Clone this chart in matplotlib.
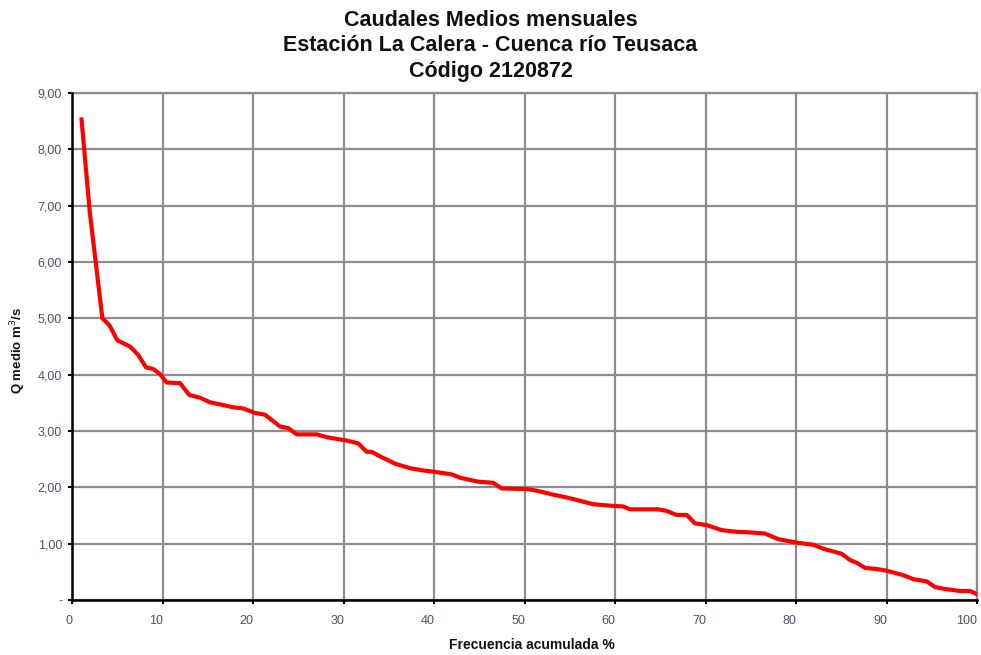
import matplotlib
matplotlib.use("Agg")
import matplotlib.pyplot as plt

plt.rcParams['font.family'] = ['Liberation Sans', 'DejaVu Sans']

freq_pct = [1.0, 1.9, 3.3, 4.07, 4.95, 6.35, 7.27, 8.12, 8.93, 9.67, 10.41, 11.88,
            12.91, 14.09, 15.19, 16.66, 17.77, 18.87, 20.17, 21.27, 22.93, 23.85,
            24.77, 26.98, 28.09, 30.30, 31.58, 32.51, 33.06, 33.98, 35.64, 37.29,
            38.76, 40.24, 41.90, 42.82, 44.84, 46.50, 47.43, 50.19, 51.29, 53.13,
            54.61, 56.08, 57.55, 59.76, 60.86, 61.60, 64.73, 65.66, 66.76, 67.87,
            68.78, 70.08, 71.73, 73.39, 74.86, 76.52, 77.99, 79.28, 80.39, 81.86,
            82.96, 84.99, 85.91, 86.65, 87.57, 88.86, 89.97, 91.80, 92.91, 94.39,
            95.30, 96.22, 98.07, 99.17, 100.0]
q_medio = [8.53, 6.9, 5.0, 4.88, 4.61, 4.50, 4.35, 4.13, 4.10, 4.01, 3.86, 3.85,
           3.64, 3.59, 3.51, 3.46, 3.42, 3.40, 3.32, 3.29, 3.08, 3.05,
           2.94, 2.94, 2.89, 2.83, 2.78, 2.63, 2.63, 2.55, 2.42, 2.34,
           2.30, 2.27, 2.23, 2.17, 2.10, 2.08, 1.98, 1.97, 1.94, 1.87,
           1.82, 1.76, 1.70, 1.67, 1.66, 1.61, 1.61, 1.58, 1.51, 1.51,
           1.36, 1.33, 1.24, 1.21, 1.20, 1.18, 1.08, 1.04, 1.01, 0.98,
           0.91, 0.82, 0.71, 0.66, 0.57, 0.55, 0.52, 0.44, 0.37, 0.33,
           0.23, 0.20, 0.16, 0.16, 0.10]

x_ticks = list(range(0, 101, 10))
y_ticks = [0, 1, 2, 3, 4, 5, 6, 7, 8, 9]
y_tick_labels = ['-', '1,00', '2,00', '3,00', '4,00', '5,00', '6,00', '7,00', '8,00', '9,00']

title = "Caudales Medios mensuales\nEstación La Calera - Cuenca río Teusaca\nCódigo 2120872"

fig = plt.figure(figsize=(9.81, 6.55), dpi=100)
ax = fig.add_axes([0.0739, 0.0840, 0.9225, 0.774])

ax.plot(freq_pct, q_medio, color='#ff0000', linewidth=3, zorder=3)

ax.set_xlim(0, 100)
ax.set_ylim(0, 9)
ax.set_xticks(x_ticks)
ax.set_yticks(y_ticks)
ax.set_yticklabels(y_tick_labels)
ax.grid(True, color='#8c8c8c', linewidth=1.6, zorder=0)
ax.set_axisbelow(True)

for side in ['top', 'right']:
    ax.spines[side].set_color('#8c8c8c')
    ax.spines[side].set_linewidth(1.6)
for side in ['left', 'bottom']:
    ax.spines[side].set_color('black')
    ax.spines[side].set_linewidth(1.8)
    ax.spines[side].set_zorder(4)

ax.tick_params(axis='both', which='both', direction='out', length=3, width=1.5,
               color='black', labelsize=9, labelcolor='#4a5468')
ax.tick_params(axis='y', pad=4.5)
ax.tick_params(axis='x', pad=8)
for lbl in ax.get_xticklabels():
    lbl.set_horizontalalignment('right')

fig.text(532 / 981, 1 - 645 / 655, 'Frecuencia acumulada %', ha='center', va='center',
         fontsize=10, fontweight='bold', color='#111111')
fig.text(18 / 981, 1 - 350 / 655, 'Q medio m$^3$/s', rotation=90, ha='center',
         va='center', fontsize=9.5, fontweight='bold', color='#111111')

fig.text(0.5, 1 - 10 / 655, title, ha='center', va='top', fontsize=15.5,
         fontweight='bold', linespacing=1.28, color='#111111')

fig.savefig('out.png', dpi=100, facecolor='white')
